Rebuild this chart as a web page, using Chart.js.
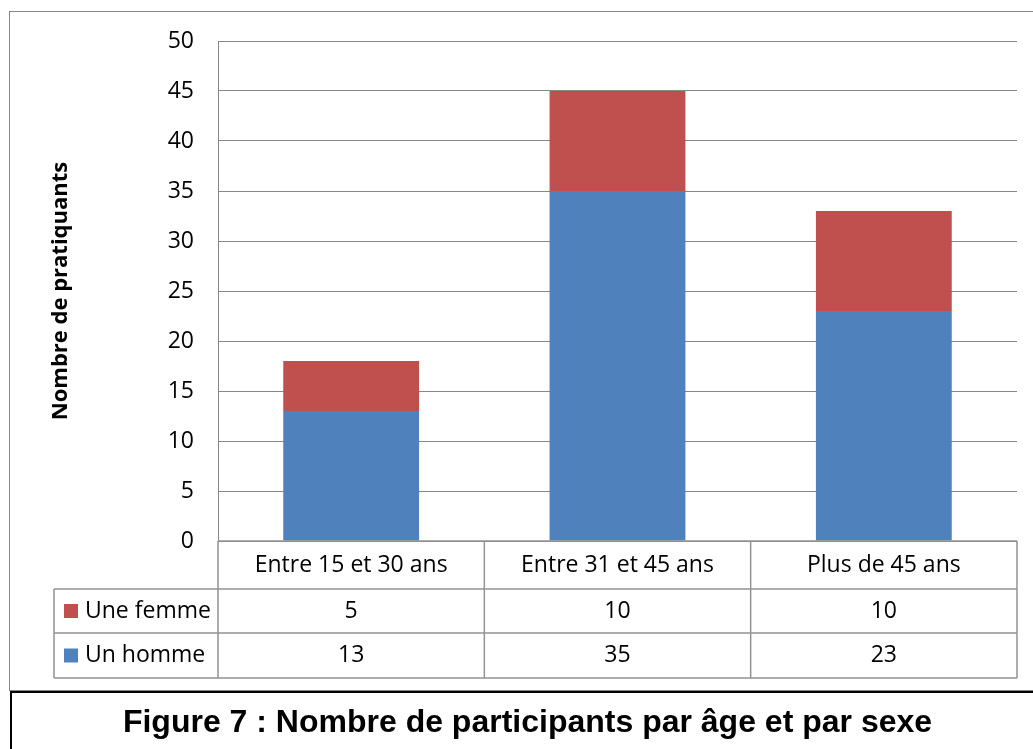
<!DOCTYPE html>
<html>
<head>
<meta charset="utf-8">
<script src="https://cdn.jsdelivr.net/npm/chart.js@4"></script>
<style>
  html, body { margin: 0; padding: 0; background: #fff; overflow: hidden; }
  #wrap { position: relative; width: 1033px; height: 749px; }
  #chart { position: absolute; left: 0; top: 0; }
  #frame { position: absolute; left: 9px; top: 11px; width: 1040px; height: 678px; border: 1px solid #878787; }
  #caption {
    position: absolute; left: 10px; top: 691px; width: 1035px; height: 70px;
    border: 2px solid #000; box-sizing: border-box;
    font: bold 32px "Liberation Sans", Arial, sans-serif; color: #000;
    text-align: center; padding-top: 10px;
  }
</style>
</head>
<body>
<div id="wrap">
  <div id="frame"></div>
  <canvas id="chart" width="1033" height="749"></canvas>
  <div id="caption">Figure 7 : Nombre de participants par âge et par sexe</div>
</div>
<script>
// Chart data
const categories = ['Entre 15 et 30 ans', 'Entre 31 et 45 ans', 'Plus de 45 ans'];
const hommes = [13, 35, 23];
const femmes = [5, 10, 10];
const seriesNames = ['Une femme', 'Un homme'];
const yTitle = 'Nombre de pratiquants';

const colors = {
  homme: '#4F81BD',
  femme: '#C0504D',
  grid: '#878787',
  table: '#939393'
};
const textFont = '"Open Sans", sans-serif';

// Draws the data table under the plot, aligned with the x scale
const dataTablePlugin = {
  id: 'dataTable',
  afterDraw(chart) {
    const { ctx, chartArea } = chart;
    const x = chart.scales.x;
    const colW = (x.right - x.left) / categories.length;
    const legendLeft = 54;
    const rowY = [chartArea.bottom, chartArea.bottom + 48, chartArea.bottom + 92, chartArea.bottom + 137];

    ctx.save();
    ctx.strokeStyle = colors.table;
    ctx.lineWidth = 1.5;

    // horizontal lines
    ctx.beginPath();
    ctx.moveTo(x.left, rowY[0]); ctx.lineTo(x.right, rowY[0]);
    for (let r = 1; r < rowY.length; r++) {
      ctx.moveTo(legendLeft, rowY[r]); ctx.lineTo(x.right, rowY[r]);
    }
    // vertical lines
    for (let c = 0; c <= categories.length; c++) {
      const px = x.left + c * colW;
      ctx.moveTo(px, rowY[0]); ctx.lineTo(px, rowY[3]);
    }
    ctx.moveTo(legendLeft, rowY[1]); ctx.lineTo(legendLeft, rowY[3]);
    ctx.stroke();

    ctx.fillStyle = '#000';
    ctx.font = '23px ' + textFont;
    ctx.textAlign = 'center';
    ctx.textBaseline = 'middle';
    const rowsData = [categories, femmes, hommes];
    rowsData.forEach((row, r) => {
      const cy = (rowY[r] + rowY[r + 1]) / 2;
      row.forEach((val, i) => {
        ctx.fillText(String(val), x.getPixelForValue(i), cy);
      });
    });

    // legend keys
    const keyColors = [colors.femme, colors.homme];
    ctx.textAlign = 'left';
    seriesNames.forEach((name, k) => {
      const cy = (rowY[k + 1] + rowY[k + 2]) / 2;
      ctx.fillStyle = keyColors[k];
      ctx.fillRect(64, cy - 7, 14, 14);
      ctx.fillStyle = '#000';
      ctx.fillText(name, 85, cy);
    });
    ctx.restore();
  }
};

new Chart(document.getElementById('chart'), {
  type: 'bar',
  data: {
    labels: categories,
    datasets: [
      { label: seriesNames[1], data: hommes, backgroundColor: colors.homme },
      { label: seriesNames[0], data: femmes, backgroundColor: colors.femme }
    ]
  },
  options: {
    responsive: false,
    animation: false,
    barPercentage: 0.51,
    categoryPercentage: 1,
    layout: { padding: { left: 0, top: 41, right: 16, bottom: 208 } },
    plugins: {
      legend: { display: false },
      tooltip: { enabled: false }
    },
    scales: {
      x: {
        stacked: true,
        ticks: { display: false },
        grid: { display: false, drawTicks: false },
        border: { display: false }
      },
      y: {
        stacked: true,
        min: 0,
        max: 50,
        afterFit: (scale) => { scale.width = 218; },
        ticks: {
          stepSize: 5,
          color: '#000',
          padding: 24,
          font: { family: textFont, size: 23 }
        },
        grid: { color: colors.grid, drawTicks: false },
        border: { color: colors.grid },
        title: {
          display: true,
          text: yTitle,
          color: '#000',
          padding: { top: 48 },
          font: { family: textFont, size: 22, weight: 'bold' }
        }
      }
    }
  },
  plugins: [dataTablePlugin]
});
</script>
</body>
</html>
